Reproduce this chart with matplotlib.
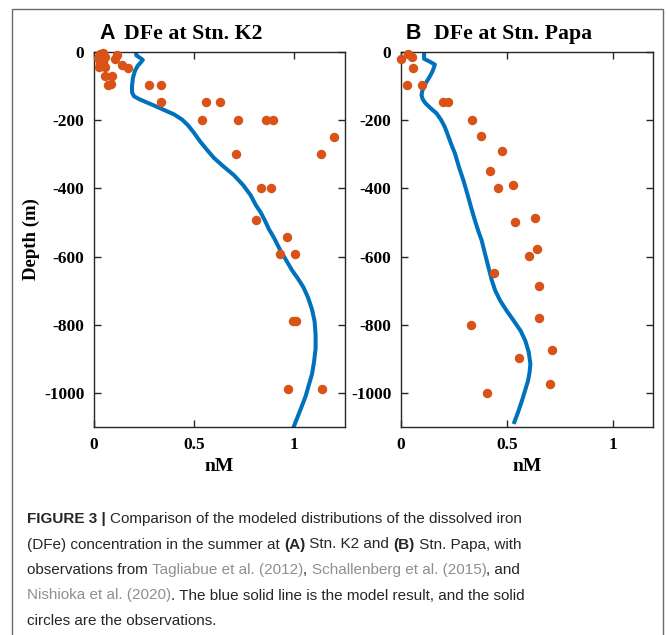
import matplotlib
matplotlib.use("Agg")
import matplotlib.pyplot as plt
from matplotlib.patches import Rectangle

plt.rcParams["axes.unicode_minus"] = False

# ---------- Data ----------
# Stn. K2 observations
k2_obs_fe = [0.03, 0.045, 0.02, 0.055, 0.03, 0.045, 0.025, 0.055, 0.115, 0.105,
             0.14, 0.17, 0.055, 0.09, 0.07, 0.085, 0.274, 0.337, 0.337, 0.561,
             0.628, 0.539, 0.721, 0.862, 0.896, 1.199, 1.136, 0.710, 0.833, 0.884,
             0.810, 0.967, 0.930, 1.007, 0.997, 1.010, 0.970, 1.140]
k2_obs_depth = [-5, -3, -18, -14, -33, -30, -45, -45, -8, -20,
                -38, -46, -70, -70, -97, -95, -97, -97, -147, -147,
                -147, -199, -199, -199, -199, -249, -298, -298, -399, -399,
                -494, -543, -594, -592, -790, -790, -989, -989]

# Stn. K2 model
k2_model_fe = [0.21, 0.212, 0.23, 0.244, 0.235, 0.219, 0.205, 0.195, 0.19, 0.19,
               0.2, 0.225, 0.26, 0.3, 0.35, 0.4, 0.44, 0.47, 0.5, 0.53,
               0.565, 0.6, 0.65, 0.699, 0.745, 0.783, 0.81, 0.833, 0.855, 0.875,
               0.9, 0.93, 0.96, 0.99, 1.02, 1.047, 1.07, 1.09, 1.103, 1.108,
               1.108, 1.1, 1.09, 1.075, 1.058, 1.035, 1.015, 0.997]
k2_model_depth = [0, -10, -17, -23, -30, -40, -55, -75, -100, -118,
                  -130, -138, -147, -157, -170, -183, -198, -215, -237, -262,
                  -287, -311, -337, -361, -390, -420, -450, -470, -495, -520,
                  -545, -580, -610, -640, -665, -690, -720, -755, -790, -830,
                  -870, -910, -945, -975, -1010, -1045, -1075, -1102]

# Stn. Papa observations
papa_obs_fe = [0.0, 0.035, 0.05, 0.057, 0.03, 0.10, 0.20, 0.22, 0.337, 0.377,
               0.479, 0.418, 0.528, 0.459, 0.631, 0.536, 0.643, 0.606, 0.437, 0.652,
               0.652, 0.329, 0.713, 0.557, 0.703, 0.408]
papa_obs_depth = [-21, -7, -15, -48, -96, -96, -148, -148, -198, -247,
                  -289, -350, -389, -399, -486, -500, -579, -599, -649, -685,
                  -780, -800, -874, -898, -974, -999]

# Stn. Papa model
papa_model_fe = [0.109, 0.109, 0.135, 0.16, 0.15, 0.136, 0.12, 0.109, 0.1, 0.097,
                 0.102, 0.115, 0.14, 0.168, 0.19, 0.207, 0.225, 0.24, 0.255, 0.275,
                 0.295, 0.315, 0.333, 0.349, 0.365, 0.381, 0.405, 0.429, 0.445, 0.468,
                 0.5, 0.532, 0.565, 0.587, 0.603, 0.611, 0.607, 0.6, 0.585, 0.571,
                 0.552, 0.532]
papa_model_depth = [0, -20, -28, -37, -55, -72, -88, -101, -115, -126,
                    -138, -150, -165, -180, -200, -220, -250, -275, -298, -340,
                    -377, -420, -460, -494, -525, -553, -612, -670, -700, -729,
                    -760, -788, -818, -847, -880, -915, -940, -964, -995, -1023,
                    -1058, -1091]

# ---------- Figure ----------
W, H = 667, 635
fig = plt.figure(figsize=(W / 100, H / 100), dpi=100)

serif = "Liberation Serif"
sans = "Liberation Sans"
line_color = "#0072BD"
dot_color = "#D95319"


def px(x, y):
    # pixel coords (from top-left) -> figure fraction
    return x / W, 1 - y / H


def setup_axes(ax, xmax):
    ax.set_xlim(0, xmax)
    ax.set_ylim(-1100, 0)
    ax.set_xticks([0, 0.5, 1])
    ax.set_xticklabels(["0", "0.5", "1"])
    ax.set_yticks([0, -200, -400, -600, -800, -1000])
    ax.tick_params(direction="in", top=True, right=True, length=5, width=1,
                   color="#262626", pad=7)
    for lab in ax.get_xticklabels() + ax.get_yticklabels():
        lab.set_fontfamily(serif)
        lab.set_fontweight("bold")
        lab.set_fontsize(12.5)
    for sp in ax.spines.values():
        sp.set_color("#262626")
        sp.set_linewidth(1)
    ax.set_xlabel("nM", fontfamily=serif, fontweight="bold", fontsize=14, labelpad=4)


# Panel A
ax1 = fig.add_axes([94 / W, 1 - 427 / H, 251 / W, 375 / H])
ax1.plot(k2_model_fe, k2_model_depth, color=line_color, lw=2.9, zorder=2,
         solid_joinstyle="round", solid_capstyle="butt")
ax1.plot(k2_obs_fe, k2_obs_depth, "o", color=dot_color, ms=6.8, mec="none",
         zorder=3, clip_on=False)
setup_axes(ax1, 1.255)
ax1.set_ylabel("Depth (m)", fontfamily=serif, fontweight="bold", fontsize=13.5, labelpad=3)

# Panel B
ax2 = fig.add_axes([401 / W, 1 - 427 / H, 252 / W, 375 / H])
ax2.plot(papa_model_fe, papa_model_depth, color=line_color, lw=2.9, zorder=2,
         solid_joinstyle="round", solid_capstyle="butt")
ax2.plot(papa_obs_fe, papa_obs_depth, "o", color=dot_color, ms=6.8, mec="none",
         zorder=3, clip_on=False)
setup_axes(ax2, 1.19)

# ---------- Titles ----------
fig.text(*px(99, 39), "A", fontfamily=sans, fontweight="bold", fontsize=15.5)
fig.text(*px(124, 39), "DFe at Stn. K2", fontfamily=serif, fontweight="bold", fontsize=15.7)
fig.text(*px(406, 39), "B", fontfamily=sans, fontweight="bold", fontsize=15.5)
fig.text(*px(434, 39), "DFe at Stn. Papa", fontfamily=serif, fontweight="bold", fontsize=15.7)

# ---------- Border ----------
fig.patches.append(Rectangle(px(12, 645), 651 / W, 636 / H, transform=fig.transFigure,
                             fill=False, edgecolor="#6b6b6b", lw=1))

# ---------- Caption ----------
dark = "#262626"
gray = "#8f8f8f"
cap_lines = [
    [("FIGURE 3 | ", "bold", dark), ("Comparison of the modeled distributions of the dissolved iron", "normal", dark)],
    [("(DFe) concentration in the summer at ", "normal", dark), ("(A)", "bold", dark),
     (" Stn. K2 and ", "normal", dark), ("(B)", "bold", dark), (" Stn. Papa, with", "normal", dark)],
    [("observations from ", "normal", dark), ("Tagliabue et al. (2012)", "normal", gray),
     (", ", "normal", dark), ("Schallenberg et al. (2015)", "normal", gray), (", and", "normal", dark)],
    [("Nishioka et al. (2020)", "normal", gray),
     (". The blue solid line is the model result, and the solid", "normal", dark)],
    [("circles are the observations.", "normal", dark)],
]

renderer = fig.canvas.get_renderer()
y0 = 523
for i, pieces in enumerate(cap_lines):
    x = 27
    for txt, weight, col in pieces:
        t = fig.text(*px(x, y0 + i * 25.5), txt, fontfamily=sans, fontweight=weight,
                     fontsize=11, color=col)
        x += t.get_window_extent(renderer).width

fig.savefig("out.png", dpi=100)
